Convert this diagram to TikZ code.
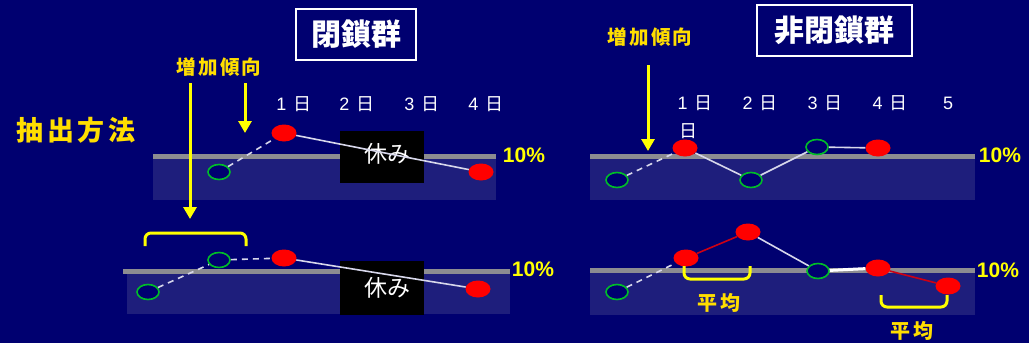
\documentclass[tikz,border=0pt]{standalone}
\usepackage{fontspec}
\setmainfont{Liberation Sans}
\newfontfamily\jp{Noto Sans CJK JP}
\newfontfamily\jpsp[LetterSpace=14]{Noto Sans CJK JP}
\newfontfamily\jpsm[LetterSpace=12]{Noto Sans CJK JP}
\usetikzlibrary{shapes.geometric,arrows.meta}
\definecolor{navy}{RGB}{0,0,112}
\definecolor{panel}{RGB}{30,30,124}
\definecolor{bar}{RGB}{140,140,145}
\definecolor{gold}{RGB}{255,222,0}
\definecolor{yel}{RGB}{255,255,0}
\definecolor{ptgreen}{RGB}{0,190,40}
\definecolor{ptred}{RGB}{255,0,0}
\definecolor{dred}{RGB}{205,0,20}
\definecolor{wline}{RGB}{215,215,235}
\newcommand{\dy}[1]{#1\hspace{7pt}{\jp 日}}
\tikzset{
  panelbox/.style={fill=panel, draw=none},
  barline/.style={draw=bar, line width=5pt},
  grn/.style={ellipse, draw=ptgreen, fill=navy, line width=1.6pt, minimum width=22pt, minimum height=15pt, inner sep=0pt},
  rd/.style={ellipse, fill=ptred, draw=none, minimum width=25pt, minimum height=17pt, inner sep=0pt},
  wl/.style={draw=wline, line width=1.6pt},
  wdash/.style={wl, dash pattern=on 6pt off 5pt},
  rl/.style={draw=dred, line width=1.6pt},
  restbox/.style={fill=black, draw=none, minimum width=84pt, minimum height=52pt, inner sep=0pt},
  resttext/.style={text=white, font=\jp\fontsize{23}{26}\selectfont, inner sep=0pt},
  daylbl/.style={text=white, font=\fontsize{18}{21}\selectfont, inner sep=0pt},
  pct/.style={text=yel, font=\bfseries\fontsize{21}{24}\selectfont, inner sep=0pt},
  ylbl/.style={text=gold, font=\jpsm\bfseries\fontsize{19.5}{22}\selectfont, inner sep=0pt},
  titlebox/.style={draw=white, line width=2pt, fill=navy, text=white, font=\jp\bfseries\fontsize{30}{34}\selectfont, inner sep=0pt},
  yarrow/.style={draw=yel, line width=3pt, -{Triangle[width=13pt,length=12pt]}},
  bracket/.style={draw=yel, line width=3pt, rounded corners=6pt},
  avg/.style={text=gold, font=\jpsm\bfseries\fontsize{20}{23}\selectfont, inner sep=0pt},
}
\begin{document}
\begin{tikzpicture}[x=1pt,y=-1pt]
\fill[navy] (0,0) rectangle (1029,343);
\useasboundingbox (0,0) rectangle (1029,343);

% ---------- titles ----------
\node[ylbl, font=\jpsp\bfseries\fontsize{27}{30}\selectfont] (method) at (76,130) {抽出方法};
\node[titlebox, minimum width=120pt, minimum height=51pt] (closed) at (356,34.5) {閉鎖群};
\node[titlebox, minimum width=155pt, minimum height=51pt] (open) at (834.5,30.5) {非閉鎖群};

% ---------- left top panel ----------
\fill[panelbox] (153,154) rectangle (496,200);
\draw[barline] (153,156.5) -- (496,156.5);
\node[restbox] (rest1) at (382,157) {};
\node[resttext] (rest1t) at (387,154) {休み};
\node[grn] (LTg1) at (219,172) {};
\node[rd] (LTr1) at (284,133) {};
\node[rd] (LTr4) at (481,172) {};
\draw[wdash] (LTg1) -- (LTr1);
\draw[wl] (LTr1) -- (LTr4);
\node[pct] (LTp) at (524,155) {10\%};
\node[daylbl] (LTd1) at (294,104) {\dy{1}};
\node[daylbl] (LTd2) at (357,104) {\dy{2}};
\node[daylbl] (LTd3) at (422,104) {\dy{3}};
\node[daylbl] (LTd4) at (486,104) {\dy{4}};
\node[ylbl] (LTinc) at (219,67) {増加傾向};

% ---------- left bottom panel ----------
\fill[panelbox] (127,270) rectangle (510,314);
\draw[barline] (123,271) -- (510,271);
\node[restbox, minimum height=54pt] (rest2) at (382,288) {};
\node[resttext] (rest2t) at (387,288) {休み};
\node[grn] (LBg1) at (148,292) {};
\node[grn] (LBg2) at (219,260) {};
\node[rd] (LBr1) at (284,258) {};
\node[rd] (LBr2) at (478,289) {};
\draw[wdash] (LBg1) -- (LBg2);
\draw[wdash] (LBg2) -- (LBr1);
\draw[wl] (LBr1) -- (LBr2);
\node[pct] (LBp) at (533,269) {10\%};
\draw[bracket] (145,246) -- (145,233) -- (246,233) -- (246,246);

% left arrows
\coordinate (LAs) at (190,83);
\coordinate (LAe) at (190,219);
\draw[yarrow] (LAs) -- (LAe);
\coordinate (SAs) at (245,83);
\coordinate (SAe) at (245,133);
\draw[yarrow] (SAs) -- (SAe);

% ---------- right top panel ----------
\fill[panelbox] (590,154) rectangle (975,200);
\draw[barline] (590,156) -- (975,156);
\node[grn] (RTg1) at (617,180) {};
\node[rd] (RTr1) at (685,148) {};
\node[grn] (RTg2) at (751,180) {};
\node[grn] (RTg3) at (817,147) {};
\node[rd] (RTr2) at (878,148) {};
\draw[wdash] (RTg1) -- (RTr1);
\draw[wl] (RTr1) -- (RTg2);
\draw[wl] (RTg2) -- (RTg3);
\draw[wl] (RTg3) -- (RTr2);
\node[pct] (RTp) at (1000,155) {10\%};
\node[daylbl] (RTd1) at (695,103) {\dy{1}};
\node[daylbl] (RTd2) at (760,103) {\dy{2}};
\node[daylbl] (RTd3) at (825,103) {\dy{3}};
\node[daylbl] (RTd4) at (890,103) {\dy{4}};
\node[daylbl] (RTd5) at (948,103) {5};
\node[daylbl, font=\jp\fontsize{18}{21}\selectfont] (RTd5b) at (688,131) {日};
\node[ylbl] (RTinc) at (650,37) {増加傾向};
\coordinate (RAs) at (648,65);
\coordinate (RAe) at (648,151);
\draw[yarrow] (RAs) -- (RAe);

% ---------- right bottom panel ----------
\fill[panelbox] (590,270) rectangle (975,315);
\draw[barline] (590,270.5) -- (975,270.5);
\node[grn] (RBg1) at (617,292) {};
\node[rd] (RBr1) at (686,258) {};
\node[rd] (RBr2) at (748,232) {};
\node[grn] (RBg2) at (818,271) {};
\node[rd] (RBr3) at (878,268) {};
\node[rd] (RBr4) at (948,286) {};
\draw[wdash] (RBg1) -- (RBr1);
\draw[rl] (RBr1) -- (RBr2);
\draw[wl] (RBr2) -- (RBg2);
\draw[draw=white, line width=3pt] (RBg2) -- (RBr3);
\draw[rl] (RBr3) -- (RBr4);
\node[pct] (RBp) at (998,270) {10\%};
\draw[bracket] (684,266) -- (684,279) -- (750,279) -- (750,266);
\draw[bracket] (881,295) -- (881,307) -- (947,307) -- (947,295);
\node[avg] (avg1) at (719,303) {平均};
\node[avg] (avg2) at (912,331) {平均};
\end{tikzpicture}
\end{document}
